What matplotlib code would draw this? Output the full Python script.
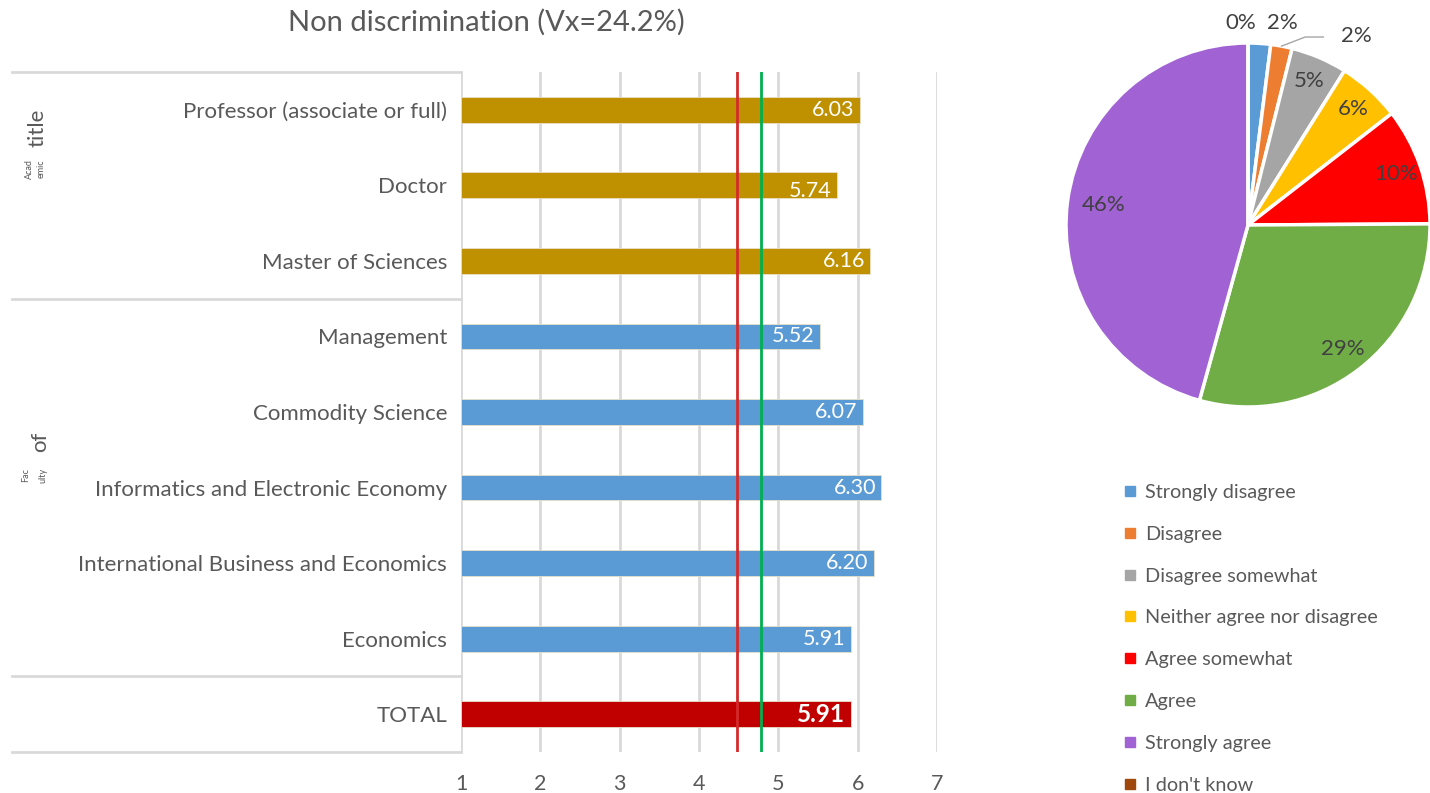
import matplotlib.pyplot as plt
from matplotlib.lines import Line2D
import numpy as np

plt.rcParams['font.family'] = ['Lato', 'DejaVu Sans']

# mean scores (1-7 scale), top row first
categories = ['Professor (associate or full)', 'Doctor', 'Master of Sciences',
              'Management', 'Commodity Science', 'Informatics and Electronic Economy',
              'International Business and Economics', 'Economics', 'TOTAL']
scores = [6.03, 5.74, 6.16, 5.52, 6.07, 6.30, 6.20, 5.91, 5.91]
groups = ['title', 'title', 'title', 'faculty', 'faculty', 'faculty', 'faculty', 'faculty', 'total']
red_ref = 4.48
green_ref = 4.78
x_ticks = [1, 2, 3, 4, 5, 6, 7]

# answer shares for the pie (%)
answers = ['Strongly disagree', 'Disagree', 'Disagree somewhat', 'Neither agree nor disagree',
           'Agree somewhat', 'Agree', 'Strongly agree', "I don't know"]
shares = [2.0, 1.9, 5.0, 5.6, 10.4, 29.4, 45.7, 0.0]

TXT = '#595959'
GRID = '#D9D9D9'
bar_colors = {'title': '#BF9000', 'faculty': '#5B9BD5', 'total': '#C00000'}
pie_colors = ['#5B9BD5', '#ED7D31', '#A5A5A5', '#FFC000', '#FF0000', '#70AD47', '#A162D3', '#9E480E']

W, H = 1430, 793
fig = plt.figure(figsize=(W / 100, H / 100), dpi=100)


def px_box(left, top, right, bottom):
    return [left / W, 1 - bottom / H, (right - left) / W, (bottom - top) / H]


# ---- bar chart ----
ax = fig.add_axes(px_box(461, 72, 937, 752))
ypos = np.arange(len(categories))
ax.set_xlim(1, 7)
ax.set_ylim(len(categories) - 0.5, -0.5)

for x in x_ticks:
    ax.axvline(x, color=GRID, lw=2, zorder=0)

for y, val, g in zip(ypos, scores, groups):
    ax.barh(y, val - 1, left=1, height=0.34, color=bar_colors[g],
            edgecolor='#E8E0C8', linewidth=0.6, zorder=2)
    if g == 'total':
        ax.text(val - 0.07, y, f'{val:.2f}', color='white', fontsize=17.5, fontweight='bold',
                ha='right', va='center', zorder=4)
    else:
        ax.text(val - 0.07, y + (0.08 if val == 5.74 else 0), f'{val:.2f}', color='white',
                fontsize=15.5, ha='right', va='center', zorder=4)

ax.axvline(red_ref, color='#D42A2A', lw=2, zorder=3)
ax.axvline(green_ref, color='#00B050', lw=2, zorder=3)

ax.set_yticks(ypos)
ax.set_yticklabels(categories, fontsize=16, color=TXT)
ax.set_xticks(x_ticks)
ax.set_xticklabels([str(t) for t in x_ticks], fontsize=15.5, color=TXT)
ax.tick_params(axis='y', length=0, pad=10)
ax.tick_params(axis='x', length=0, pad=16)
for s in ax.spines.values():
    s.set_visible(False)

# category box lines on the left
trans = ax.get_yaxis_transform()
x_left = (12 - 461) / (937 - 461)
for yb in [-0.5, 2.5, 7.5, 8.5]:
    ax.plot([x_left, 0], [yb, yb], color=GRID, lw=2, transform=trans, clip_on=False, zorder=0)

# wrapped group labels
fig.text(38 / W, 1 - 128 / H, 'title', rotation=90, fontsize=16, color=TXT, ha='center', va='center')
fig.text(29 / W, 1 - 169 / H, 'Acad', rotation=90, fontsize=6.5, color=TXT, ha='center', va='center')
fig.text(41 / W, 1 - 169 / H, 'emic', rotation=90, fontsize=6.5, color=TXT, ha='center', va='center')
fig.text(40 / W, 1 - 442 / H, 'of', rotation=90, fontsize=16, color=TXT, ha='center', va='center')
fig.text(26 / W, 1 - 475 / H, 'Fac', rotation=90, fontsize=6.5, color=TXT, ha='center', va='center')
fig.text(43 / W, 1 - 475 / H, 'ulty', rotation=90, fontsize=6.5, color=TXT, ha='center', va='center')

fig.text(486 / W, 1 - 22 / H, 'Non discrimination (Vx=24.2%)', fontsize=21, color=TXT,
         ha='center', va='center')

# ---- pie chart ----
R = 182
cx, cy = 1248, 225
pax = fig.add_axes(px_box(cx - R, cy - R, cx + R, cy + R))
pax.pie(shares, colors=pie_colors, startangle=90, counterclock=False, radius=1,
        wedgeprops=dict(edgecolor='white', linewidth=2.5))
pax.set_xlim(-1, 1)
pax.set_ylim(-1, 1)
pax.set_aspect('equal')
pax.axis('off')

# small slices get their labels outside, nudged apart
outside_nudge = {0: (0.12, 0.0), 1: (0.30, -0.05), 7: (-0.04, 0.0)}
cum = np.cumsum([0] + shares[:-1])
for i, (start, v) in enumerate(zip(cum, shares)):
    mid = np.deg2rad(90 - (start + v / 2) * 3.6)
    if i in outside_nudge:
        dx, dy = outside_nudge[i]
        lx, ly = 1.11 * np.cos(mid) + dx, 1.11 * np.sin(mid) + dy
        if i == 1:
            ex, ey = 1.0 * np.cos(mid), 1.0 * np.sin(mid)
            pax.plot([ex, ex + 0.13, ex + 0.23], [ey, ey + 0.05, ey + 0.05],
                     color='#A6A6A6', lw=1, clip_on=False)
            lx = ex + 0.23 + 0.18
    else:
        r_lab = 0.8 if v > 40 else 0.86
        lx, ly = r_lab * np.cos(mid), r_lab * np.sin(mid)
    pax.text(lx, ly, f'{v:.0f}%', fontsize=16, color='#404040', ha='center', va='center')

handles = [Line2D([], [], marker='s', linestyle='none', markersize=7, color=c) for c in pie_colors]
fig.legend(handles, answers, loc='upper left', bbox_to_anchor=(1116 / W, 1 - 476 / H),
           frameon=False, fontsize=14.3, labelcolor=TXT, handlelength=0.6,
           handletextpad=0.45, labelspacing=1.25, borderaxespad=0)

fig.savefig('out.png', dpi=100)
